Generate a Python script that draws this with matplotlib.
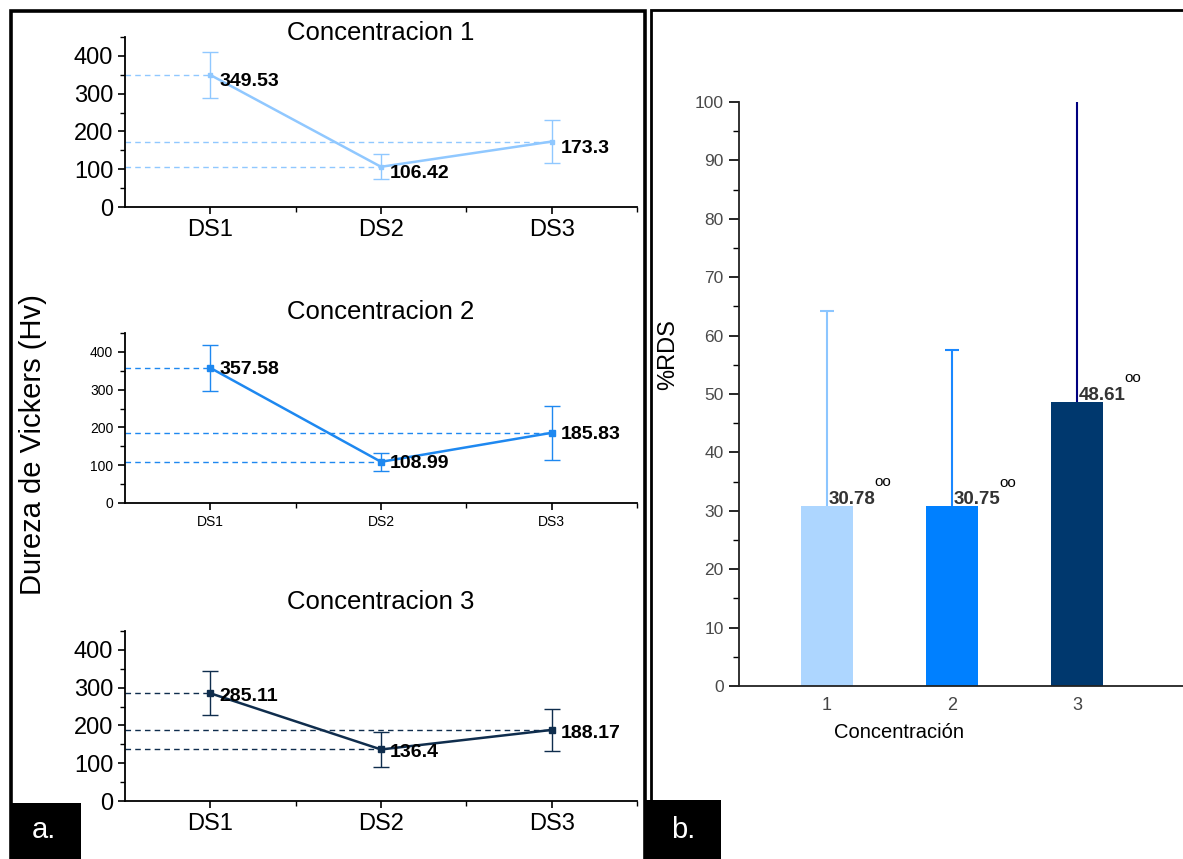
import matplotlib
matplotlib.use("Agg")
import matplotlib.pyplot as plt
from matplotlib.patches import Rectangle
from matplotlib.ticker import MultipleLocator, FixedLocator

plt.rcParams['font.family'] = ['Liberation Sans', 'DejaVu Sans']

W, H = 1183, 859

# --- datos panel a: dureza de Vickers ---
muestras = ["DS1", "DS2", "DS3"]
titulos = ["Concentracion 1", "Concentracion 2", "Concentracion 3"]
dureza_c1 = [349.53, 106.42, 173.3]
dureza_c2 = [357.58, 108.99, 185.83]
dureza_c3 = [285.11, 136.4, 188.17]
error_c1 = [61, 33, 58]
error_c2 = [61.5, 24.5, 71]
error_c3 = [58, 47.5, 56.5]
colores = ["#90c8ff", "#1e88f0", "#0f2d4d"]

# --- datos panel b: %RDS ---
concentracion = ["1", "2", "3"]
rds = [30.78, 30.75, 48.61]
error_rds = [33.5, 26.8, 55.0]
colores_barras = ["#add6ff", "#0080ff", "#00386e"]
colores_error = ["#8cc6ff", "#1a88ff", "#00007f"]


def caja(x0, y0, x1, y1):
    # pixeles (origen arriba a la izquierda) -> fraccion de figura
    return [x0 / W, 1 - y1 / H, (x1 - x0) / W, (y1 - y0) / H]


fig = plt.figure(figsize=(W / 100, H / 100), dpi=100)

# marcos de los paneles
fig.patches.append(Rectangle((11 / W, -0.05), (645 - 11) / W, 1.05 - 11 / H,
                             transform=fig.transFigure, fill=False,
                             edgecolor="black", lw=2.6))
fig.patches.append(Rectangle((651 / W, -0.05), 1.0, 1.05 - 10 / H,
                             transform=fig.transFigure, fill=False,
                             edgecolor="black", lw=2.0))

# --- panel a ---
datos = [dureza_c1, dureza_c2, dureza_c3]
errores = [error_c1, error_c2, error_c3]
arriba = [37, 333, 631]
abajo = [207, 503, 801]
y_titulo = [33, 312, 602]
tam = [17, 10, 17]
ms = [3.5, 4.5, 4.5]
dy = [-5, -1.5, -2.5]
x = [0.5, 1.5, 2.5]

for i in range(3):
    ax = fig.add_axes(caja(125, arriba[i], 637, abajo[i]))
    c = colores[i]
    ax.hlines(datos[i], 0, x, colors=c, linestyles=(0, (4, 3)), lw=1.0)
    ax.errorbar(x, datos[i], yerr=errores[i], color=c, lw=1.8, marker="s",
                ms=ms[i], elinewidth=1.0, capsize=6, capthick=1.0)
    for xi, v in zip(x, datos[i]):
        ax.annotate(f"{v:g}", (xi, v), xytext=(6.5, dy[i]), textcoords="offset points",
                    ha="left", va="center", fontsize=14, fontweight="bold")
    ax.set_xlim(0, 3)
    ax.set_ylim(0, 450)
    ax.spines[["top", "right"]].set_visible(False)
    for s in ["left", "bottom"]:
        ax.spines[s].set_linewidth(1.3)
    ax.set_xticks(x, muestras)
    ax.xaxis.set_minor_locator(FixedLocator([1, 2, 3]))
    ax.yaxis.set_major_locator(MultipleLocator(100))
    ax.yaxis.set_minor_locator(MultipleLocator(50))
    ax.tick_params(which="major", direction="out", length=5, width=1.2, labelsize=tam[i])
    ax.tick_params(which="minor", direction="out", length=3.5, width=1.0)
    fig.text(381 / W, 1 - y_titulo[i] / H, titulos[i], ha="center", va="center", fontsize=18.5)

fig.text(33 / W, 1 - 445 / H, "Dureza de Vickers (Hv)", rotation=90,
         ha="center", va="center", fontsize=21)

# --- panel b ---
axb = fig.add_axes(caja(739, 102, 1183, 686))
xb = [1, 2, 3]
axb.bar(xb, rds, width=0.42, color=colores_barras, zorder=2)
for xi, v, e, c in zip(xb, rds, error_rds, colores_error):
    _, tapas, _ = axb.errorbar(xi, v, yerr=[[0], [e]], fmt="none", ecolor=c,
                               elinewidth=1.5, capsize=5, capthick=1.5, zorder=3)
    for tapa in tapas:
        if tapa.get_ydata()[0] <= v:
            tapa.set_visible(False)
    t = axb.annotate(f"{v:g}", (xi, v), xytext=(1.5, -1), textcoords="offset points",
                     ha="left", va="bottom", fontsize=13.5, fontweight="bold",
                     color="#333333", zorder=4)
    axb.annotate("oo", xy=(1, 1), xycoords=t, xytext=(-1, 3), textcoords="offset points",
                 ha="left", va="baseline", fontsize=11, color="black")
axb.set_xlim(1 - 88 / 125, 1 + 356 / 125)
axb.set_ylim(0, 100)
axb.spines[["top", "right"]].set_visible(False)
for s in ["left", "bottom"]:
    axb.spines[s].set_linewidth(1.3)
    axb.spines[s].set_color("#222222")
axb.set_xticks(xb, concentracion)
axb.yaxis.set_major_locator(MultipleLocator(10))
axb.yaxis.set_minor_locator(MultipleLocator(5))
axb.tick_params(axis="x", length=0, pad=8, labelsize=13, labelcolor="#444444")
axb.tick_params(axis="y", which="major", direction="out", length=7, width=1.2,
                pad=4, labelsize=12.5, labelcolor="#4a4a4a")
axb.tick_params(axis="y", which="minor", direction="out", length=4, width=1.0)
fig.text(668 / W, 1 - 355 / H, "%RDS", rotation=90, ha="center", va="center", fontsize=17)
fig.text(899 / W, 1 - 733 / H, "Concentración", ha="center", va="center", fontsize=14.5)

# etiquetas a. y b.
fig.patches.append(Rectangle((10 / W, 0), 71 / W, 56 / H, transform=fig.transFigure,
                             facecolor="black", edgecolor="none"))
fig.patches.append(Rectangle((645 / W, 0), 76 / W, 59 / H, transform=fig.transFigure,
                             facecolor="black", edgecolor="none"))
fig.text(44 / W, 1 - 830 / H, "a.", color="white", ha="center", va="center", fontsize=21)
fig.text(683 / W, 1 - 830 / H, "b.", color="white", ha="center", va="center", fontsize=21)

fig.savefig("out.png", dpi=100)
